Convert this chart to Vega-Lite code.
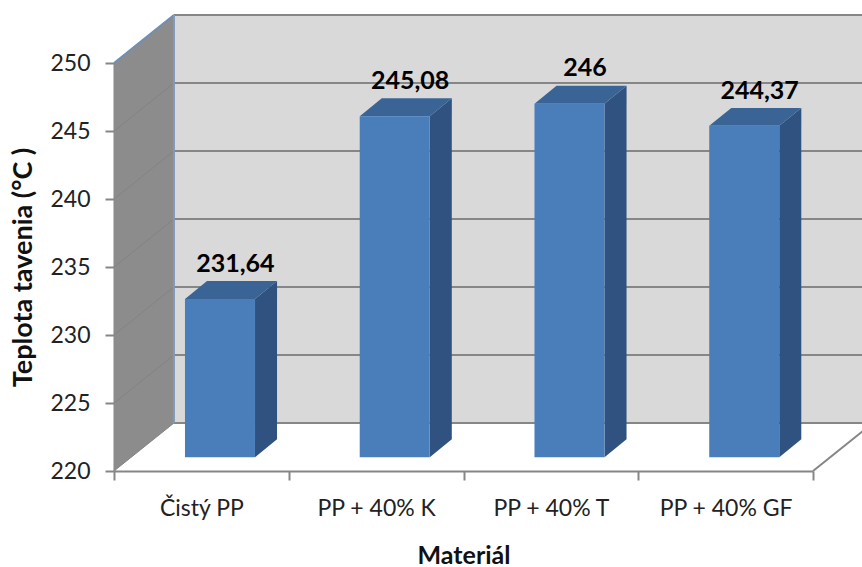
{
  "$schema": "https://vega.github.io/schema/vega-lite/v6.json",
  "width": 699,
  "height": 408,
  "autosize": "none",
  "padding": {"left": 114, "top": 63, "right": 49, "bottom": 96},
  "background": "white",
  "config": {
    "font": "Lato",
    "view": {"stroke": null},
    "axis": {"grid": false}
  },
  "datasets": {
    "materialy": [
      {"material": "Čistý PP", "poradie": 0, "teplota": 231.64},
      {"material": "PP + 40% K", "poradie": 1, "teplota": 245.08},
      {"material": "PP + 40% T", "poradie": 2, "teplota": 246},
      {"material": "PP + 40% GF", "poradie": 3, "teplota": 244.37}
    ],
    "stupnica": [
      {"hodnota": 220}, {"hodnota": 225}, {"hodnota": 230}, {"hodnota": 235},
      {"hodnota": 240}, {"hodnota": 245}, {"hodnota": 250}
    ],
    "stena": [{"dno": 220, "vrch": 250}]
  },
  "resolve": {"scale": {"x": "independent"}, "axis": {"x": "independent"}},
  "encoding": {
    "y": {
      "type": "quantitative",
      "scale": {"domain": [220, 250], "nice": false, "zero": false},
      "axis": {
        "title": "Teplota tavenia (°C )",
        "titleFont": "Lato",
        "titleFontSize": 27,
        "titleFontWeight": "bold",
        "titleColor": "#111111",
        "titlePadding": 12,
        "values": [220, 225, 230, 235, 240, 245, 250],
        "labelFontSize": 23,
        "labelColor": "#222222",
        "labelPadding": 15,
        "tickColor": "#868686",
        "tickWidth": 2,
        "tickSize": 9,
        "domainColor": "#868686",
        "domainWidth": 2
      }
    }
  },
  "layer": [
    {
      "description": "Back wall of the oblique box",
      "data": {"name": "stena"},
      "transform": [
        {"calculate": "datum.dno + 3.53", "as": "z0"},
        {"calculate": "datum.vrch + 3.53", "as": "z1"}
      ],
      "mark": {"type": "rect", "fill": "#d9d9d9"},
      "encoding": {
        "x": {"datum": 0.343, "type": "quantitative", "scale": {"domain": [0, 4], "nice": false, "zero": false}, "axis": null},
        "x2": {"datum": 4.343},
        "y": {"field": "z0"},
        "y2": {"field": "z1"}
      }
    },
    {
      "description": "Gridlines on the back wall",
      "data": {"name": "stupnica"},
      "transform": [{"calculate": "datum.hodnota + 3.53", "as": "z"}],
      "mark": {"type": "rule", "stroke": "#868686", "strokeWidth": 2},
      "encoding": {
        "x": {"datum": 0.343, "type": "quantitative", "scale": {"domain": [0, 4], "nice": false, "zero": false}, "axis": null},
        "x2": {"datum": 4.343},
        "y": {"field": "z"}
      }
    },
    {
      "description": "Left side wall",
      "data": {"name": "stena"},
      "transform": [
        {"calculate": "[0, 1]", "as": "d"},
        {"flatten": ["d"]},
        {"calculate": "datum.d * 0.343", "as": "px"},
        {"calculate": "datum.dno + datum.d * 3.53", "as": "z0"},
        {"calculate": "datum.vrch + datum.d * 3.53", "as": "z1"}
      ],
      "mark": {"type": "area", "fill": "#8c8c8c", "opacity": 1},
      "encoding": {
        "x": {"field": "px", "type": "quantitative", "scale": {"domain": [0, 4], "nice": false, "zero": false}, "axis": null},
        "y": {"field": "z0"},
        "y2": {"field": "z1"}
      }
    },
    {
      "description": "Gridlines running along the side wall",
      "data": {"name": "stupnica"},
      "transform": [{"calculate": "datum.hodnota + 3.53", "as": "z"}],
      "mark": {"type": "rule", "stroke": "#838383", "strokeWidth": 1},
      "encoding": {
        "x": {"datum": 0, "type": "quantitative", "scale": {"domain": [0, 4], "nice": false, "zero": false}, "axis": null},
        "x2": {"datum": 0.343},
        "y": {"field": "hodnota"},
        "y2": {"field": "z"}
      }
    },
    {
      "description": "Blue-grey upper slant of the side wall",
      "data": {"name": "stena"},
      "transform": [{"calculate": "datum.vrch + 3.53", "as": "z1"}],
      "mark": {"type": "rule", "stroke": "#6f8fb5", "strokeWidth": 2},
      "encoding": {
        "x": {"datum": 0, "type": "quantitative", "scale": {"domain": [0, 4], "nice": false, "zero": false}, "axis": null},
        "x2": {"datum": 0.343},
        "y": {"field": "vrch"},
        "y2": {"field": "z1"}
      }
    },
    {
      "description": "Blue-grey vertical corner between the walls",
      "data": {"name": "stena"},
      "transform": [
        {"calculate": "datum.dno + 3.53", "as": "z0"},
        {"calculate": "datum.vrch + 3.53", "as": "z1"}
      ],
      "mark": {"type": "rule", "stroke": "#7f99ba", "strokeWidth": 2},
      "encoding": {
        "x": {"datum": 0.343, "type": "quantitative", "scale": {"domain": [0, 4], "nice": false, "zero": false}, "axis": null},
        "y": {"field": "z0"},
        "y2": {"field": "z1"}
      }
    },
    {
      "description": "Right edge of the floor",
      "data": {"name": "stena"},
      "transform": [{"calculate": "datum.dno + 3.53", "as": "z0"}],
      "mark": {"type": "rule", "stroke": "#868686", "strokeWidth": 2},
      "encoding": {
        "x": {"datum": 4, "type": "quantitative", "scale": {"domain": [0, 4], "nice": false, "zero": false}, "axis": null},
        "x2": {"datum": 4.343},
        "y": {"field": "dno"},
        "y2": {"field": "z0"}
      }
    },
    {
      "description": "Right side face of each column",
      "data": {"name": "materialy"},
      "transform": [
        {"calculate": "[0, 1]", "as": "d"},
        {"flatten": ["d"]},
        {"calculate": "datum.poradie + 0.807 + datum.d * 0.126", "as": "px"},
        {"calculate": "datum.teplota + 1.007 + datum.d * 1.32", "as": "z1"},
        {"calculate": "220 + 1.007 + datum.d * 1.32", "as": "z0"}
      ],
      "mark": {"type": "area", "fill": "#2f5280", "opacity": 1},
      "encoding": {
        "detail": {"field": "material"},
        "x": {"field": "px", "type": "quantitative", "scale": {"domain": [0, 4], "nice": false, "zero": false}, "axis": null},
        "y": {"field": "z0"},
        "y2": {"field": "z1"}
      }
    },
    {
      "description": "Top face of each column",
      "data": {"name": "materialy"},
      "transform": [
        {"calculate": "[0, 1]", "as": "d"},
        {"flatten": ["d"]},
        {"calculate": "datum.teplota + 1.007 + datum.d * 1.32", "as": "z"},
        {"calculate": "datum.poradie + 0.4063 + datum.d * 0.126", "as": "p0"},
        {"calculate": "datum.poradie + 0.807 + datum.d * 0.126", "as": "p1"}
      ],
      "mark": {"type": "area", "orient": "horizontal", "fill": "#3a6496", "opacity": 1},
      "encoding": {
        "detail": {"field": "material"},
        "y": {"field": "z"},
        "x": {"field": "p0", "type": "quantitative", "scale": {"domain": [0, 4], "nice": false, "zero": false}, "axis": null},
        "x2": {"field": "p1"}
      }
    },
    {
      "description": "Front face of each column; carries the category axis",
      "data": {"name": "materialy"},
      "mark": {"type": "bar", "fill": "#4a7ebb", "size": 70, "xOffset": 18.6, "yOffset": -13.7, "y2Offset": -13.7},
      "encoding": {
        "x": {
          "field": "material",
          "type": "nominal",
          "sort": null,
          "scale": {"domain": ["Čistý PP", "PP + 40% K", "PP + 40% T", "PP + 40% GF"], "paddingInner": 0, "paddingOuter": 0},
          "axis": {
            "title": "Materiál",
            "titleFont": "Lato",
            "titleFontSize": 25,
            "titleFontWeight": "bold",
            "titleColor": "#111111",
            "titlePadding": 23,
            "labelAngle": 0,
            "labelFontSize": 23,
            "labelColor": "#222222",
            "labelPadding": 17,
            "tickBand": "extent",
            "tickColor": "#868686",
            "tickWidth": 2,
            "tickSize": 9,
            "domainColor": "#868686",
            "domainWidth": 2
          }
        },
        "y": {"field": "teplota"},
        "y2": {"datum": 220}
      }
    },
    {
      "description": "Value labels with a decimal comma",
      "data": {"name": "materialy"},
      "transform": [{"calculate": "replace(toString(datum.teplota), '.', ',')", "as": "popis"}],
      "mark": {"type": "text", "font": "Lato", "fontWeight": "bold", "fontSize": 25, "fill": "#000000", "xOffset": 34, "yOffset": -49, "baseline": "middle"},
      "encoding": {
        "x": {
          "field": "material",
          "type": "nominal",
          "sort": null,
          "scale": {"domain": ["Čistý PP", "PP + 40% K", "PP + 40% T", "PP + 40% GF"], "paddingInner": 0, "paddingOuter": 0},
          "axis": null
        },
        "y": {"field": "teplota"},
        "text": {"field": "popis"}
      }
    }
  ]
}
